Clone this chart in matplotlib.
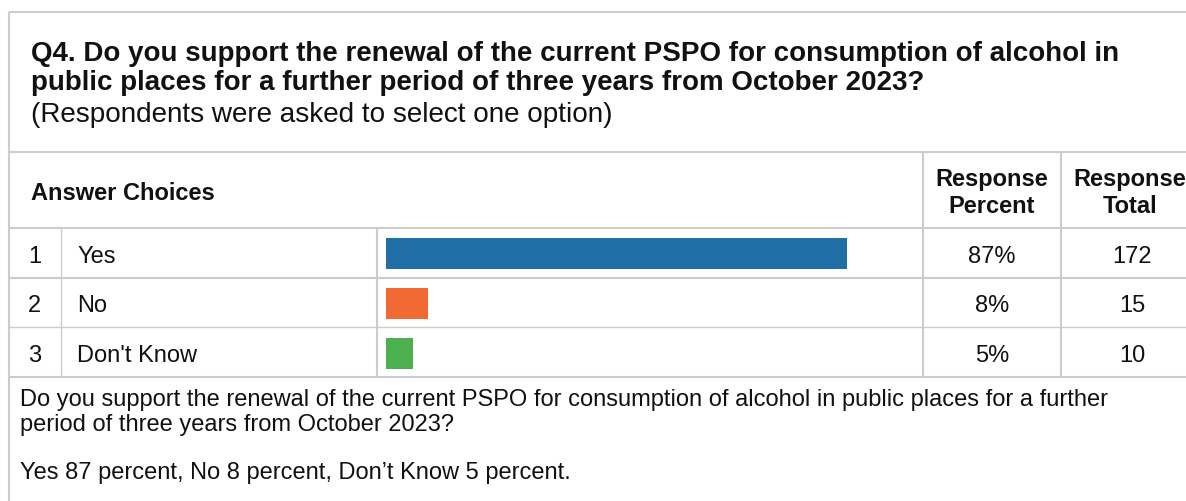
import matplotlib
matplotlib.use("Agg")
import matplotlib.pyplot as plt

plt.rcParams['font.family'] = ['Liberation Sans', 'DejaVu Sans']

# --- Data ---
question_lines = ["Q4. Do you support the renewal of the current PSPO for consumption of alcohol in",
                  "public places for a further period of three years from October 2023?"]
subtitle = "(Respondents were asked to select one option)"
choices = ["Yes", "No", "Don't Know"]
percents = [87, 8, 5]
totals = [172, 15, 10]
bar_colors = ["#1f6fa6", "#f26a33", "#4caf50"]
footer_lines = ["Do you support the renewal of the current PSPO for consumption of alcohol in public places for a further",
                "period of three years from October 2023?",
                "",
                "Yes 87 percent, No 8 percent, Don\u2019t Know 5 percent."]

W, H = 1186, 502
fig = plt.figure(figsize=(W / 100, H / 100), dpi=100)
ax = fig.add_axes([0, 0, 1, 1])
ax.set_xlim(0, W)
ax.set_ylim(H, 0)
ax.axis('off')

grid = '#cccccc'
ink = '#111111'

def hline(y, x0=9, x1=W, lw=1.5):
    ax.plot([x0, x1], [y, y], color=grid, lw=lw, solid_capstyle='butt')

def vline(x, y0, y1, lw=1.5):
    ax.plot([x, x], [y0, y1], color=grid, lw=lw, solid_capstyle='butt')

# outer frame / table lines
hline(13)
hline(153)
hline(229)
hline(279)
hline(328, lw=1)
hline(378)
vline(9, 13, H)
vline(61, 229, 378, lw=1)
vline(377, 229, 378)
vline(923, 153, 378)
vline(1061, 153, 378)

# title block
for y, line in zip([61, 90], question_lines):
    ax.text(31, y, line, fontsize=20, fontweight='bold', va='baseline', ha='left', color=ink)
ax.text(31, 122, subtitle, fontsize=20.1, va='baseline', ha='left', color=ink)

# header
ax.text(31, 200, "Answer Choices", fontsize=17, fontweight='bold', va='baseline', color=ink)
for x, (l1, l2) in [(992, ("Response", "Percent")), (1130, ("Response", "Total"))]:
    ax.text(x, 186, l1, fontsize=17, fontweight='bold', va='baseline', ha='center', color=ink)
    ax.text(x, 213, l2, fontsize=17, fontweight='bold', va='baseline', ha='center', color=ink)

# rows
row_base = [263, 312.5, 362]
for i, (c, p, t) in enumerate(zip(choices, percents, totals)):
    y = row_base[i]
    ax.text(34.5, y, str(i + 1), fontsize=17, va='baseline', ha='center', color=ink)
    ax.text(77, y, c, fontsize=17, va='baseline', ha='left', color=ink)
    ax.text(992, y, f"{p}%", fontsize=17, va='baseline', ha='center', color=ink)
    ax.text(1132, y, str(t), fontsize=17, va='baseline', ha='center', color=ink)

# bars in their own axes, 0-100 %
bax = fig.add_axes([386 / W, (H - 379.5) / H, 530 / W, 149.5 / H])
bax.barh(range(len(choices)), percents, height=0.62, color=bar_colors)
bax.set_xlim(0, 100)
bax.set_ylim(2.5, -0.5)
bax.axis('off')

# footer
for y, line in zip([406, 431, 455, 479], footer_lines):
    ax.text(20, y, line, fontsize=17, va='baseline', ha='left', color=ink)

fig.savefig("out.png", dpi=100)
